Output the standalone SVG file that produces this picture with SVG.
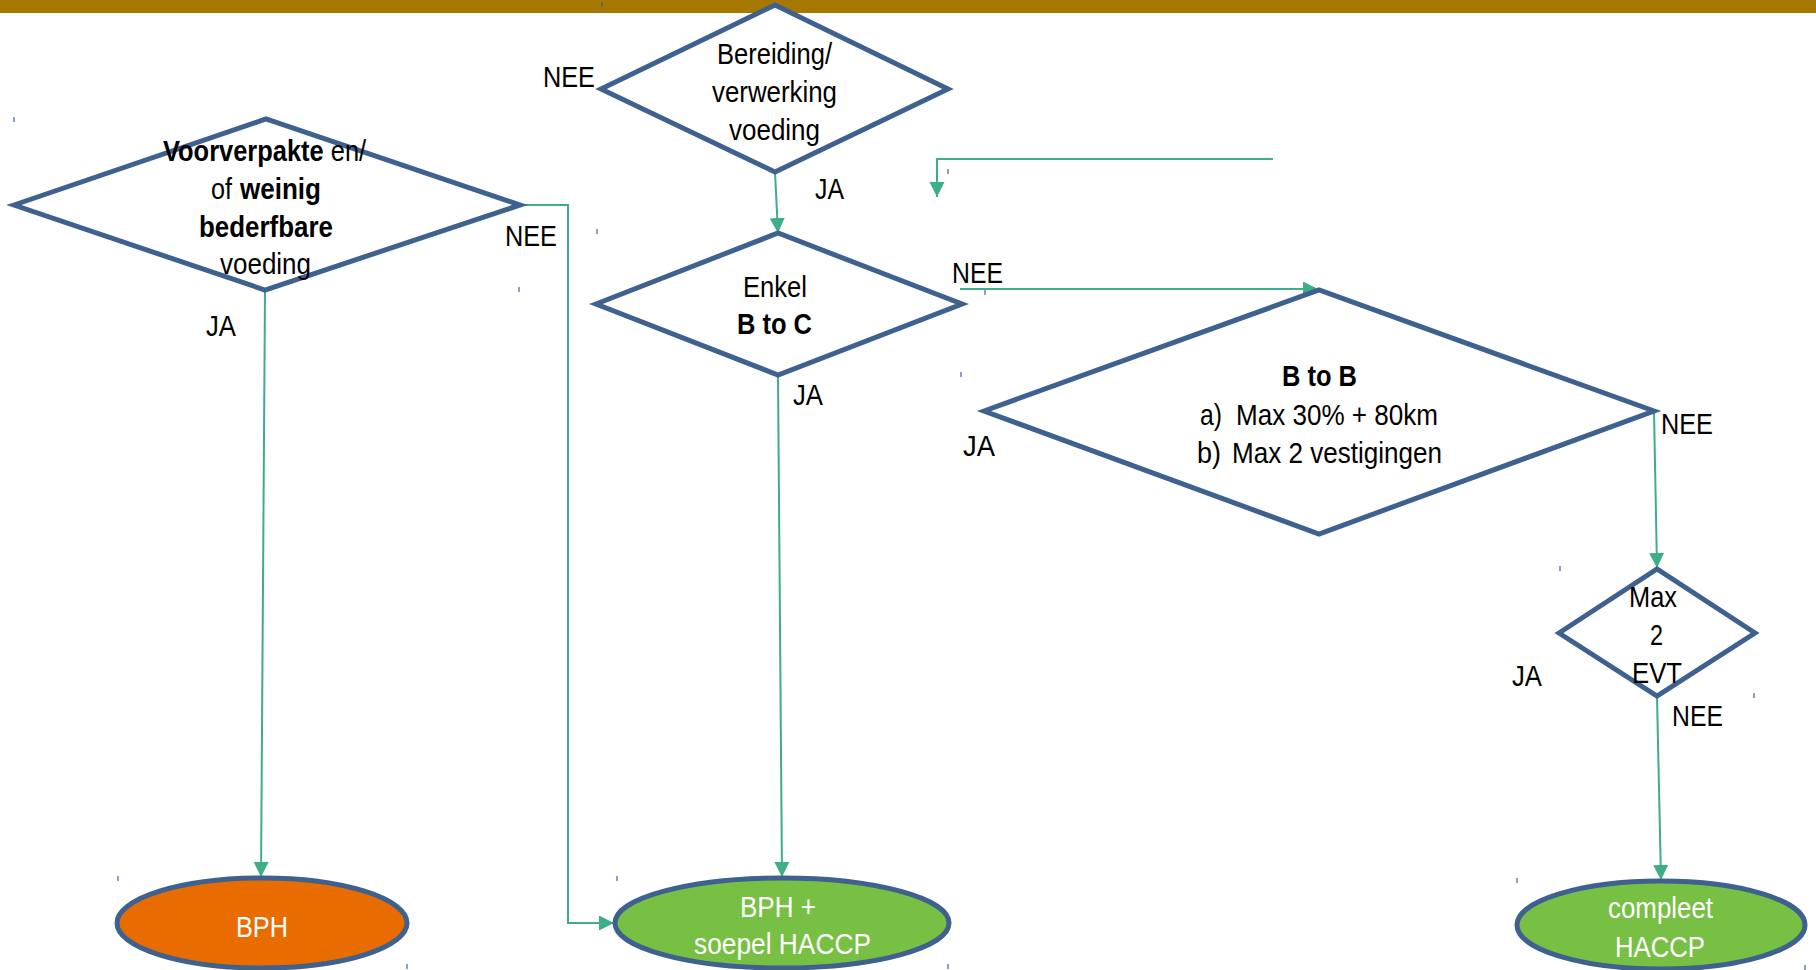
<svg xmlns="http://www.w3.org/2000/svg" width="1816" height="970" viewBox="0 0 1816 970">
  <style>
    .shape { fill: #ffffff; stroke: #3E6190; stroke-width: 5; stroke-linejoin: miter; }
    .end { stroke: #3E6190; stroke-width: 5; }
    .orange { fill: #E96C00; }
    .green { fill: #77C043; }
    .link { fill: none; stroke: #3EAE88; stroke-width: 2; }
    .lbl { font-family: "Liberation Sans", Arial, sans-serif; font-size: 29px; fill: #000000; }
    .wht { font-family: "Liberation Sans", Arial, sans-serif; font-size: 29px; fill: #ffffff; }
    .b { font-weight: bold; }
    .tick { stroke: #3E6190; stroke-width: 1.2; }
  </style>
  <defs>
    <marker id="arrow" markerUnits="userSpaceOnUse" markerWidth="16" markerHeight="16" refX="15" refY="7.5" orient="auto">
      <path d="M0,0 L15,7.5 L0,15 Z" fill="#3EAE88"/>
    </marker>
  </defs>

  <rect width="1816" height="970" fill="#ffffff"/>
  <!-- title band -->
  <rect x="0" y="0" width="1816" height="13" fill="#A67800"/>

  <!-- small corner marks -->
  <g id="marks">
    <line class="tick" x1="14" y1="117" x2="14" y2="122"/>
    <line class="tick" x1="519" y1="287" x2="519" y2="292"/>
    <line class="tick" x1="602" y1="2" x2="602" y2="7"/>
    <line class="tick" x1="948" y1="169" x2="948" y2="174"/>
    <line class="tick" x1="597" y1="229" x2="597" y2="234"/>
    <line class="tick" x1="961" y1="372" x2="961" y2="377"/>
    <line class="tick" x1="985" y1="290" x2="985" y2="295"/>
    <line class="tick" x1="1560" y1="566" x2="1560" y2="571"/>
    <line class="tick" x1="1754" y1="693" x2="1754" y2="698"/>
    <line class="tick" x1="118" y1="876" x2="118" y2="881"/>
    <line class="tick" x1="407" y1="964" x2="407" y2="969"/>
    <line class="tick" x1="617" y1="876" x2="617" y2="881"/>
    <line class="tick" x1="948" y1="964" x2="948" y2="969"/>
    <line class="tick" x1="1517" y1="878" x2="1517" y2="883"/>
    <line class="tick" x1="1805" y1="965" x2="1805" y2="970"/>
  </g>

  <!-- connectors -->
  <g id="connectors">
    <path class="link" d="M265,291 L261,877" marker-end="url(#arrow)"/>
    <path class="link" d="M520,205 L568,205 L568,923 L614,923" marker-end="url(#arrow)"/>
    <path class="link" d="M775,172 L778,233" marker-end="url(#arrow)"/>
    <path class="link" d="M960,289 L1318,289" marker-end="url(#arrow)"/>
    <path class="link" d="M778,375 L782,877" marker-end="url(#arrow)"/>
    <path class="link" d="M1273,159 L937,159 L937,197" marker-end="url(#arrow)"/>
    <path class="link" d="M1654,411 L1657,568" marker-end="url(#arrow)"/>
    <path class="link" d="M1657,696 L1661,880" marker-end="url(#arrow)"/>
  </g>

  <!-- decision: pre-packed food -->
  <g id="voorverpakt">
    <polygon class="shape" points="14,205 266,119 520,205 265,290"/>
    <text class="lbl" transform="translate(163,161) scale(0.878,1)" x="0" y="0"><tspan class="b">Voorverpakte</tspan> en/</text>
    <text class="lbl" x="211" y="199" textLength="21" lengthAdjust="spacingAndGlyphs">of</text>
    <text class="lbl b" x="240" y="199" textLength="81" lengthAdjust="spacingAndGlyphs">weinig</text>
    <text class="lbl b" x="199" y="237" textLength="134" lengthAdjust="spacingAndGlyphs">bederfbare</text>
    <text class="lbl" x="220" y="274" textLength="91" lengthAdjust="spacingAndGlyphs">voeding</text>
  </g>

  <!-- decision: preparation / processing -->
  <g id="bereiding">
    <polygon class="shape" points="601,89 775,5 948,89 775,172"/>
    <text class="lbl" x="717" y="64" textLength="115" lengthAdjust="spacingAndGlyphs">Bereiding/</text>
    <text class="lbl" x="712" y="102" textLength="125" lengthAdjust="spacingAndGlyphs">verwerking</text>
    <text class="lbl" x="729" y="140" textLength="91" lengthAdjust="spacingAndGlyphs">voeding</text>
  </g>

  <!-- decision: B to C only -->
  <g id="btoc">
    <polygon class="shape" points="596,304 778,233 962,304 778,375"/>
    <text class="lbl" x="743" y="297" textLength="64" lengthAdjust="spacingAndGlyphs">Enkel</text>
    <text class="lbl b" x="737" y="334" textLength="75" lengthAdjust="spacingAndGlyphs">B to C</text>
  </g>

  <!-- decision: B to B -->
  <g id="btob">
    <polygon class="shape" points="984,411 1319,290 1654,411 1319,534"/>
    <text class="lbl b" x="1282" y="386" textLength="75" lengthAdjust="spacingAndGlyphs">B to B</text>
    <text class="lbl" x="1200" y="425" textLength="22" lengthAdjust="spacingAndGlyphs">a)</text>
    <text class="lbl" x="1236" y="425" textLength="202" lengthAdjust="spacingAndGlyphs">Max 30% + 80km</text>
    <text class="lbl" x="1197" y="463" textLength="24" lengthAdjust="spacingAndGlyphs">b)</text>
    <text class="lbl" x="1232" y="463" textLength="210" lengthAdjust="spacingAndGlyphs">Max 2 vestigingen</text>
  </g>

  <!-- decision: max 2 EVT -->
  <g id="max2evt">
    <polygon class="shape" points="1559,633 1657,569 1755,633 1657,696"/>
    <text class="lbl" x="1629" y="607" textLength="48" lengthAdjust="spacingAndGlyphs">Max</text>
    <text class="lbl" x="1650" y="645" textLength="13" lengthAdjust="spacingAndGlyphs">2</text>
    <text class="lbl" x="1632" y="683" textLength="50" lengthAdjust="spacingAndGlyphs">EVT</text>
  </g>

  <!-- outcomes -->
  <g id="bph">
    <ellipse class="end orange" cx="262" cy="923" rx="145" ry="45"/>
    <text class="wht" x="236" y="937" textLength="52" lengthAdjust="spacingAndGlyphs">BPH</text>
  </g>
  <g id="bph-soepel">
    <ellipse class="end green" cx="782" cy="923" rx="167" ry="45"/>
    <text class="wht" x="740" y="917" textLength="76" lengthAdjust="spacingAndGlyphs">BPH +</text>
    <text class="wht" x="694" y="954" textLength="177" lengthAdjust="spacingAndGlyphs">soepel HACCP</text>
  </g>
  <g id="compleet">
    <ellipse class="end green" cx="1661" cy="925" rx="144" ry="44"/>
    <text class="wht" x="1608" y="918" textLength="105" lengthAdjust="spacingAndGlyphs">compleet</text>
    <text class="wht" x="1615" y="957" textLength="90" lengthAdjust="spacingAndGlyphs">HACCP</text>
  </g>

  <!-- branch labels -->
  <g id="labels">
    <text class="lbl" x="543" y="87" textLength="52" lengthAdjust="spacingAndGlyphs">NEE</text>
    <text class="lbl" x="815" y="199" textLength="29" lengthAdjust="spacingAndGlyphs">JA</text>
    <text class="lbl" x="505" y="246" textLength="52" lengthAdjust="spacingAndGlyphs">NEE</text>
    <text class="lbl" x="206" y="336" textLength="30" lengthAdjust="spacingAndGlyphs">JA</text>
    <text class="lbl" x="952" y="283" textLength="51" lengthAdjust="spacingAndGlyphs">NEE</text>
    <text class="lbl" x="793" y="405" textLength="30" lengthAdjust="spacingAndGlyphs">JA</text>
    <text class="lbl" x="963" y="456" textLength="32" lengthAdjust="spacingAndGlyphs">JA</text>
    <text class="lbl" x="1661" y="434" textLength="52" lengthAdjust="spacingAndGlyphs">NEE</text>
    <text class="lbl" x="1512" y="686" textLength="30" lengthAdjust="spacingAndGlyphs">JA</text>
    <text class="lbl" x="1672" y="726" textLength="51" lengthAdjust="spacingAndGlyphs">NEE</text>
  </g>
</svg>
